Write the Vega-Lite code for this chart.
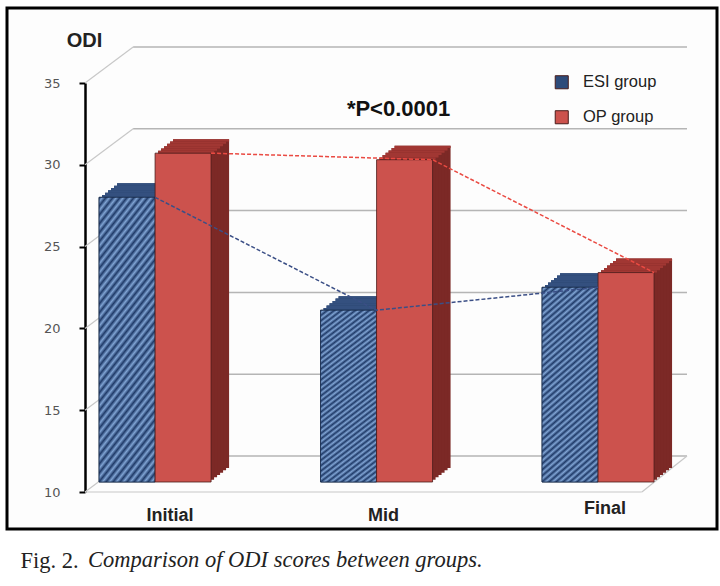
{
  "$schema": "https://vega.github.io/schema/vega-lite/v6.json",
  "width": 710,
  "height": 521,
  "autosize": {"type": "none"},
  "padding": {"left": 7, "top": 8, "right": 3, "bottom": 57},
  "background": "white",
  "config": {
    "view": {"stroke": "#000", "strokeWidth": 3, "fill": "#fdfdfd"},
    "font": "Liberation Sans",
    "axis": {"grid": false}
  },
  "title": {
    "text": "Comparison of ODI scores between groups.",
    "orient": "bottom",
    "anchor": "start",
    "frame": "group",
    "font": "Liberation Serif",
    "fontStyle": "italic",
    "fontWeight": "normal",
    "fontSize": 22.5,
    "color": "#222",
    "baseline": "alphabetic",
    "dx": 81,
    "offset": -5
  },
  "datasets": {
    "odi": [
      {"phase": "Initial", "step": 1, "group": "ESI group", "value": 27.4},
      {"phase": "Initial", "step": 1, "group": "OP group", "value": 30.1},
      {"phase": "Mid", "step": 2, "group": "ESI group", "value": 20.5},
      {"phase": "Mid", "step": 2, "group": "OP group", "value": 29.7},
      {"phase": "Final", "step": 3, "group": "ESI group", "value": 21.9},
      {"phase": "Final", "step": 3, "group": "OP group", "value": 22.8}
    ],
    "ticks": [{"tick": 10}, {"tick": 15}, {"tick": 20}, {"tick": 25}, {"tick": 30}, {"tick": 35}]
  },
  "resolve": {"scale": {"x": "independent"}},
  "layer": [
    {
      "data": {"name": "ticks"},
      "encoding": {
        "y": {"field": "tick", "type": "quantitative", "scale": {"domain": [10, 35], "range": [484, 75], "nice": false, "zero": false}}
      },
      "layer": [
        {
          "mark": {"type": "rule", "color": "#c8c8c8", "strokeWidth": 1.2, "y2Offset": -36},
          "encoding": {
            "x": {"datum": 0, "type": "quantitative", "scale": {"domain": [0, 1], "range": [78, 680]}, "axis": null},
            "x2": {"datum": 0.08},
            "y2": {"field": "tick"}
          }
        },
        {
          "mark": {"type": "rule", "color": "#b5b5b5", "strokeWidth": 1.5, "yOffset": -36},
          "encoding": {
            "x": {"datum": 0.08, "type": "quantitative"},
            "x2": {"datum": 1}
          }
        },
        {
          "transform": [{"filter": "datum.tick === 10"}],
          "mark": {"type": "rule", "color": "#c8c8c8", "strokeWidth": 1.2},
          "encoding": {
            "x": {"datum": 0, "type": "quantitative"},
            "x2": {"datum": 0.925}
          }
        },
        {
          "transform": [{"filter": "datum.tick === 10"}],
          "mark": {"type": "rule", "color": "#c8c8c8", "strokeWidth": 1.2, "y2Offset": -36},
          "encoding": {
            "x": {"datum": 0.925, "type": "quantitative"},
            "x2": {"datum": 1},
            "y2": {"field": "tick"}
          }
        }
      ]
    },
    {
      "data": {"name": "odi"},
      "encoding": {
        "x": {
          "field": "phase",
          "type": "nominal",
          "sort": ["Initial", "Mid", "Final"],
          "scale": {"paddingInner": 0.4944, "paddingOuter": 0.35, "align": 0.594},
          "axis": {
            "orient": "bottom",
            "offset": -25,
            "domain": false,
            "ticks": false,
            "labelAngle": 0,
            "labelFont": "Liberation Sans",
            "labelFontSize": 18,
            "labelFontWeight": "bold",
            "labelColor": "#222",
            "labelOffset": {"condition": {"test": "datum.value === 'Initial'", "value": 15}, "value": 7},
            "labelPadding": {"condition": {"test": "datum.value === 'Final'", "value": -5}, "value": 2},
            "title": "Fig. 2.",
            "titleFont": "Liberation Serif",
            "titleFontSize": 22.5,
            "titleFontWeight": "normal",
            "titleColor": "#222",
            "titleX": 13,
            "titleY": 63,
            "titleAlign": "left",
            "titleBaseline": "alphabetic"
          }
        },
        "y": {
          "field": "value",
          "type": "quantitative",
          "scale": {"domain": [10, 35], "range": [484, 75], "nice": false, "zero": false},
          "axis": {
            "values": [10, 15, 20, 25, 30, 35],
            "offset": -78,
            "domainColor": "#000",
            "domainWidth": 2.5,
            "tickColor": "#000",
            "tickWidth": 2,
            "tickSize": 6,
            "labelFont": "DejaVu Sans",
            "labelFontSize": 13,
            "labelColor": "#555",
            "labelPadding": 19,
            "title": "ODI",
            "titleAngle": 0,
            "titleX": -1,
            "titleY": 32,
            "titleAlign": "center",
            "titleBaseline": "middle",
            "titleFont": "Liberation Sans",
            "titleFontSize": 20,
            "titleFontWeight": "bold",
            "titleColor": "#222"
          }
        }
      },
      "layer": [
        {"transform": [{"filter": "datum.group === 'ESI group'"}], "mark": {"type": "bar", "width": 56, "xOffset": -10, "yOffset": -24, "y2Offset": -24, "color": "#26406b"}, "encoding": {"y2": {"datum": 10}}},
        {"transform": [{"filter": "datum.group === 'ESI group'"}], "mark": {"type": "bar", "width": 56, "xOffset": -13, "yOffset": -21.7, "y2Offset": -21.7, "color": "#26406b"}, "encoding": {"y2": {"datum": 10}}},
        {"transform": [{"filter": "datum.group === 'ESI group'"}], "mark": {"type": "bar", "width": 56, "xOffset": -16, "yOffset": -19.3, "y2Offset": -19.3, "color": "#26406b"}, "encoding": {"y2": {"datum": 10}}},
        {"transform": [{"filter": "datum.group === 'ESI group'"}], "mark": {"type": "bar", "width": 56, "xOffset": -19, "yOffset": -17, "y2Offset": -17, "color": "#26406b"}, "encoding": {"y2": {"datum": 10}}},
        {"transform": [{"filter": "datum.group === 'ESI group'"}], "mark": {"type": "bar", "width": 56, "xOffset": -22, "yOffset": -14.7, "y2Offset": -14.7, "color": "#26406b"}, "encoding": {"y2": {"datum": 10}}},
        {"transform": [{"filter": "datum.group === 'ESI group'"}], "mark": {"type": "bar", "width": 56, "xOffset": -25, "yOffset": -12.3, "y2Offset": -12.3, "color": "#26406b"}, "encoding": {"y2": {"datum": 10}}},
        {"transform": [{"filter": "datum.group === 'OP group'"}], "mark": {"type": "bar", "width": 56, "xOffset": 46, "yOffset": -24, "y2Offset": -24, "color": "#7c2926"}, "encoding": {"y2": {"datum": 10}}},
        {"transform": [{"filter": "datum.group === 'OP group'"}], "mark": {"type": "bar", "width": 56, "xOffset": 43, "yOffset": -21.7, "y2Offset": -21.7, "color": "#7c2926"}, "encoding": {"y2": {"datum": 10}}},
        {"transform": [{"filter": "datum.group === 'OP group'"}], "mark": {"type": "bar", "width": 56, "xOffset": 40, "yOffset": -19.3, "y2Offset": -19.3, "color": "#7c2926"}, "encoding": {"y2": {"datum": 10}}},
        {"transform": [{"filter": "datum.group === 'OP group'"}], "mark": {"type": "bar", "width": 56, "xOffset": 37, "yOffset": -17, "y2Offset": -17, "color": "#7c2926"}, "encoding": {"y2": {"datum": 10}}},
        {"transform": [{"filter": "datum.group === 'OP group'"}], "mark": {"type": "bar", "width": 56, "xOffset": 34, "yOffset": -14.7, "y2Offset": -14.7, "color": "#7c2926"}, "encoding": {"y2": {"datum": 10}}},
        {"transform": [{"filter": "datum.group === 'OP group'"}], "mark": {"type": "bar", "width": 56, "xOffset": 31, "yOffset": -12.3, "y2Offset": -12.3, "color": "#7c2926"}, "encoding": {"y2": {"datum": 10}}},
        {"transform": [{"filter": "datum.group === 'ESI group'"}], "mark": {"type": "bar", "width": 56, "xOffset": -25, "yOffset": -12.3, "y2Offset": -10, "color": "#34507f"}, "encoding": {"y2": {"field": "value"}}},
        {"transform": [{"filter": "datum.group === 'ESI group'"}], "mark": {"type": "bar", "width": 56, "xOffset": -22, "yOffset": -14.7, "y2Offset": -12.3, "color": "#34507f"}, "encoding": {"y2": {"field": "value"}}},
        {"transform": [{"filter": "datum.group === 'ESI group'"}], "mark": {"type": "bar", "width": 56, "xOffset": -19, "yOffset": -17, "y2Offset": -14.7, "color": "#34507f"}, "encoding": {"y2": {"field": "value"}}},
        {"transform": [{"filter": "datum.group === 'ESI group'"}], "mark": {"type": "bar", "width": 56, "xOffset": -16, "yOffset": -19.3, "y2Offset": -17, "color": "#34507f"}, "encoding": {"y2": {"field": "value"}}},
        {"transform": [{"filter": "datum.group === 'ESI group'"}], "mark": {"type": "bar", "width": 56, "xOffset": -13, "yOffset": -21.7, "y2Offset": -19.3, "color": "#34507f"}, "encoding": {"y2": {"field": "value"}}},
        {"transform": [{"filter": "datum.group === 'ESI group'"}], "mark": {"type": "bar", "width": 56, "xOffset": -10, "yOffset": -24, "y2Offset": -21.7, "color": "#34507f"}, "encoding": {"y2": {"field": "value"}}},
        {"transform": [{"filter": "datum.group === 'OP group'"}], "mark": {"type": "bar", "width": 56, "xOffset": 31, "yOffset": -12.3, "y2Offset": -10, "color": "#a13733"}, "encoding": {"y2": {"field": "value"}}},
        {"transform": [{"filter": "datum.group === 'OP group'"}], "mark": {"type": "bar", "width": 56, "xOffset": 34, "yOffset": -14.7, "y2Offset": -12.3, "color": "#a13733"}, "encoding": {"y2": {"field": "value"}}},
        {"transform": [{"filter": "datum.group === 'OP group'"}], "mark": {"type": "bar", "width": 56, "xOffset": 37, "yOffset": -17, "y2Offset": -14.7, "color": "#a13733"}, "encoding": {"y2": {"field": "value"}}},
        {"transform": [{"filter": "datum.group === 'OP group'"}], "mark": {"type": "bar", "width": 56, "xOffset": 40, "yOffset": -19.3, "y2Offset": -17, "color": "#a13733"}, "encoding": {"y2": {"field": "value"}}},
        {"transform": [{"filter": "datum.group === 'OP group'"}], "mark": {"type": "bar", "width": 56, "xOffset": 43, "yOffset": -21.7, "y2Offset": -19.3, "color": "#a13733"}, "encoding": {"y2": {"field": "value"}}},
        {"transform": [{"filter": "datum.group === 'OP group'"}], "mark": {"type": "bar", "width": 56, "xOffset": 46, "yOffset": -24, "y2Offset": -21.7, "color": "#a13733"}, "encoding": {"y2": {"field": "value"}}},
        {
          "transform": [{"filter": "datum.group === 'ESI group'"}],
          "mark": {"type": "bar", "width": 56, "xOffset": -28, "yOffset": -10, "y2Offset": -10, "stroke": "#1b2d4d", "strokeWidth": 0.8, "opacity": 1},
          "encoding": {
            "y2": {"datum": 10},
            "color": {
              "field": "group",
              "type": "nominal",
              "scale": {"domain": ["ESI group", "OP group"], "range": ["#2e4b7a", "#cc524d"]},
              "legend": {
                "orient": "none",
                "legendX": 546.5,
                "legendY": 66,
                "title": null,
                "padding": 0,
                "symbolType": "square",
                "symbolSize": 170,
                "symbolStrokeColor": "#222",
                "symbolStrokeWidth": 1,
                "symbolOpacity": 1,
                "labelFont": "Liberation Sans",
                "labelFontSize": 16.5,
                "labelColor": "#222",
                "labelOffset": 13,
                "rowPadding": 17
              }
            }
          }
        },
        {
          "transform": [{"filter": "datum.group === 'ESI group'"}],
          "mark": {
            "type": "bar", "width": 56, "xOffset": -28, "yOffset": -10, "y2Offset": -10, "stroke": "#1b2d4d", "strokeWidth": 0.8,
            "color": {
              "gradient": "linear", "x1": 0, "y1": 0, "x2": 0.294, "y2": 1.176,
              "stops": [
                {"offset": 0, "color": "#1f3a68"}, {"offset": 0.0125, "color": "#80a4d4"}, {"offset": 0.025, "color": "#1f3a68"}, {"offset": 0.0375, "color": "#80a4d4"}, {"offset": 0.05, "color": "#1f3a68"},
                {"offset": 0.0625, "color": "#80a4d4"}, {"offset": 0.075, "color": "#1f3a68"}, {"offset": 0.0875, "color": "#80a4d4"}, {"offset": 0.1, "color": "#1f3a68"}, {"offset": 0.1125, "color": "#80a4d4"},
                {"offset": 0.125, "color": "#1f3a68"}, {"offset": 0.1375, "color": "#80a4d4"}, {"offset": 0.15, "color": "#1f3a68"}, {"offset": 0.1625, "color": "#80a4d4"}, {"offset": 0.175, "color": "#1f3a68"},
                {"offset": 0.1875, "color": "#80a4d4"}, {"offset": 0.2, "color": "#1f3a68"}, {"offset": 0.2125, "color": "#80a4d4"}, {"offset": 0.225, "color": "#1f3a68"}, {"offset": 0.2375, "color": "#80a4d4"},
                {"offset": 0.25, "color": "#1f3a68"}, {"offset": 0.2625, "color": "#80a4d4"}, {"offset": 0.275, "color": "#1f3a68"}, {"offset": 0.2875, "color": "#80a4d4"}, {"offset": 0.3, "color": "#1f3a68"},
                {"offset": 0.3125, "color": "#80a4d4"}, {"offset": 0.325, "color": "#1f3a68"}, {"offset": 0.3375, "color": "#80a4d4"}, {"offset": 0.35, "color": "#1f3a68"}, {"offset": 0.3625, "color": "#80a4d4"},
                {"offset": 0.375, "color": "#1f3a68"}, {"offset": 0.3875, "color": "#80a4d4"}, {"offset": 0.4, "color": "#1f3a68"}, {"offset": 0.4125, "color": "#80a4d4"}, {"offset": 0.425, "color": "#1f3a68"},
                {"offset": 0.4375, "color": "#80a4d4"}, {"offset": 0.45, "color": "#1f3a68"}, {"offset": 0.4625, "color": "#80a4d4"}, {"offset": 0.475, "color": "#1f3a68"}, {"offset": 0.4875, "color": "#80a4d4"},
                {"offset": 0.5, "color": "#1f3a68"}, {"offset": 0.5125, "color": "#80a4d4"}, {"offset": 0.525, "color": "#1f3a68"}, {"offset": 0.5375, "color": "#80a4d4"}, {"offset": 0.55, "color": "#1f3a68"},
                {"offset": 0.5625, "color": "#80a4d4"}, {"offset": 0.575, "color": "#1f3a68"}, {"offset": 0.5875, "color": "#80a4d4"}, {"offset": 0.6, "color": "#1f3a68"}, {"offset": 0.6125, "color": "#80a4d4"},
                {"offset": 0.625, "color": "#1f3a68"}, {"offset": 0.6375, "color": "#80a4d4"}, {"offset": 0.65, "color": "#1f3a68"}, {"offset": 0.6625, "color": "#80a4d4"}, {"offset": 0.675, "color": "#1f3a68"},
                {"offset": 0.6875, "color": "#80a4d4"}, {"offset": 0.7, "color": "#1f3a68"}, {"offset": 0.7125, "color": "#80a4d4"}, {"offset": 0.725, "color": "#1f3a68"}, {"offset": 0.7375, "color": "#80a4d4"},
                {"offset": 0.75, "color": "#1f3a68"}, {"offset": 0.7625, "color": "#80a4d4"}, {"offset": 0.775, "color": "#1f3a68"}, {"offset": 0.7875, "color": "#80a4d4"}, {"offset": 0.8, "color": "#1f3a68"},
                {"offset": 0.8125, "color": "#80a4d4"}, {"offset": 0.825, "color": "#1f3a68"}, {"offset": 0.8375, "color": "#80a4d4"}, {"offset": 0.85, "color": "#1f3a68"}, {"offset": 0.8625, "color": "#80a4d4"},
                {"offset": 0.875, "color": "#1f3a68"}, {"offset": 0.8875, "color": "#80a4d4"}, {"offset": 0.9, "color": "#1f3a68"}, {"offset": 0.9125, "color": "#80a4d4"}, {"offset": 0.925, "color": "#1f3a68"},
                {"offset": 0.9375, "color": "#80a4d4"}, {"offset": 0.95, "color": "#1f3a68"}, {"offset": 0.9625, "color": "#80a4d4"}, {"offset": 0.975, "color": "#1f3a68"}, {"offset": 0.9875, "color": "#80a4d4"},
                {"offset": 1, "color": "#1f3a68"}
              ]
            }
          },
          "encoding": {"y2": {"datum": 10}}
        },
        {
          "transform": [{"filter": "datum.group === 'OP group'"}],
          "mark": {"type": "bar", "width": 56, "xOffset": 28, "yOffset": -10, "y2Offset": -10, "stroke": "#4a1c1a", "strokeWidth": 0.8, "opacity": 1},
          "encoding": {
            "y2": {"datum": 10},
            "color": {"field": "group", "type": "nominal"}
          }
        },
        {
          "transform": [{"filter": "datum.group === 'ESI group'"}],
          "mark": {"type": "line", "color": "#3b4f86", "strokeWidth": 1.5, "strokeDash": [4, 2], "yOffset": -10},
          "encoding": {"order": {"field": "step", "type": "quantitative"}}
        },
        {
          "transform": [{"filter": "datum.group === 'OP group'"}],
          "mark": {"type": "line", "color": "#ea4a42", "strokeWidth": 1.5, "strokeDash": [4, 2], "xOffset": 56, "yOffset": -10},
          "encoding": {"order": {"field": "step", "type": "quantitative"}}
        },
        {
          "transform": [{"filter": "datum.phase === 'Mid' && datum.group === 'OP group'"}],
          "mark": {"type": "text", "font": "Liberation Sans", "fontSize": 22, "fontWeight": "bold", "color": "#111", "dx": 22},
          "encoding": {
            "y": {"datum": 33.4},
            "text": {"value": "*P<0.0001"}
          }
        }
      ]
    }
  ]
}
